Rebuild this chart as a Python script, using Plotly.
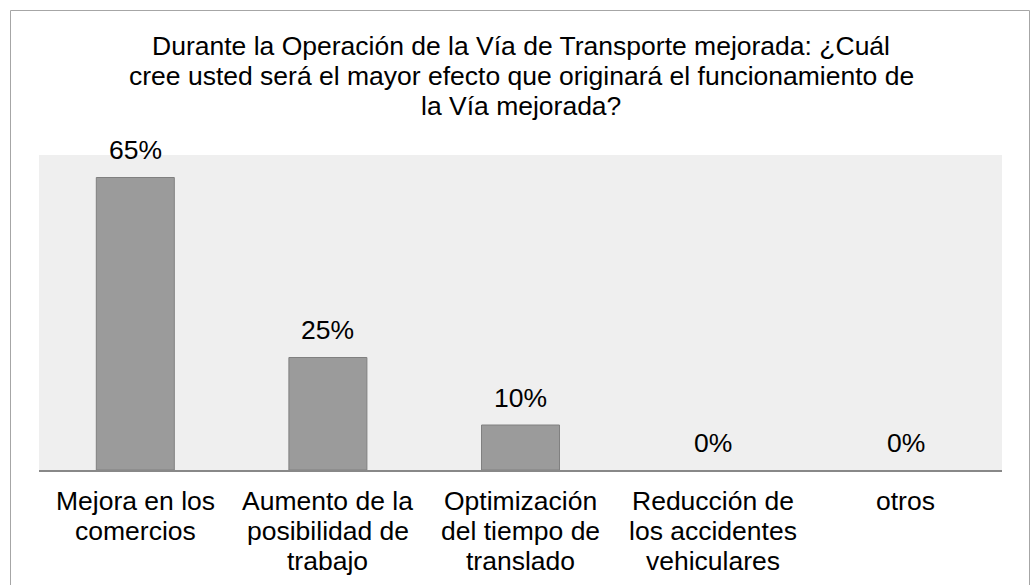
import plotly.graph_objects as go

categories = ["Mejora en los comercios", "Aumento de la posibilidad de trabajo",
              "Optimización del tiempo de translado", "Reducción de los accidentes vehiculares", "otros"]
tick_lines = [["Mejora en los", "comercios"],
              ["Aumento de la", "posibilidad de", "trabajo"],
              ["Optimización", "del tiempo de", "translado"],
              ["Reducción de", "los accidentes", "vehiculares"],
              ["otros"]]
values = [0.65, 0.25, 0.10, 0.0, 0.0]
value_labels = ["65%", "25%", "10%", "0%", "0%"]
title_lines = ["Durante la Operación de la Vía de Transporte mejorada: ¿Cuál",
               "cree usted será el mayor efecto que originará el funcionamiento de",
               "la Vía mejorada?"]

FONT = "Liberation Sans, Arial, sans-serif"
FS = 26.5
W, H = 1032, 585
ML, MR, MT, MB = 39, 30, 155, 115
pw = W - ML - MR
ph = H - MT - MB
DESC = 0.212 * FS + 1  # baseline offset from annotation box bottom

def px_x(p):
    return (p - ML) / pw

def px_y(p):
    return (H - MB - p) / ph

fig = go.Figure()
fig.add_trace(go.Bar(
    x=categories, y=values,
    marker=dict(color="#9B9B9B",
                line=dict(color="#808080", width=[1 if v > 0 else 0 for v in values])),
    hoverinfo="skip",
))

# value labels
for c, v, t in zip(categories, values, value_labels):
    fig.add_annotation(x=c, y=v, text=t, showarrow=False, yanchor="bottom",
                       yshift=17 - DESC, font=dict(family=FONT, size=FS, color="#000000"))

# category labels (line by line)
for c, lines in zip(categories, tick_lines):
    for i, ln in enumerate(lines):
        fig.add_annotation(x=c, y=0, yref="paper", text=ln, showarrow=False, yanchor="bottom",
                           yshift=-(41.5 + 30 * i + DESC), font=dict(family=FONT, size=FS, color="#000000"))

# title (line by line)
for i, ln in enumerate(title_lines):
    base = 56.7 + 30 * i
    fig.add_annotation(x=px_x(521), y=px_y(base + DESC), xref="paper", yref="paper", text=ln,
                       showarrow=False, xanchor="center", yanchor="bottom",
                       font=dict(family=FONT, size=FS, color="#000000"))

# chart border
fig.add_shape(type="rect", xref="paper", yref="paper",
              x0=px_x(10.5), x1=px_x(1029.5), y0=px_y(600), y1=px_y(10.5),
              line=dict(color="#A6A6A6", width=1), fillcolor="rgba(0,0,0,0)", layer="below")

fig.update_layout(
    width=W, height=H,
    margin=dict(l=ML, r=MR, t=MT, b=MB),
    paper_bgcolor="#FFFFFF", plot_bgcolor="#EFEFEF",
    bargap=0.595,
    showlegend=False,
    hovermode=False,
    xaxis=dict(showline=True, linecolor="#888888", linewidth=2, ticks="", showgrid=False,
               showticklabels=False, fixedrange=True),
    yaxis=dict(range=[0, 0.70], visible=False, showgrid=False, zeroline=False, fixedrange=True),
)

fig.write_html("out.html", config={"displayModeBar": False},
               post_script="document.body.style.margin='0';document.body.style.overflow='hidden';")
